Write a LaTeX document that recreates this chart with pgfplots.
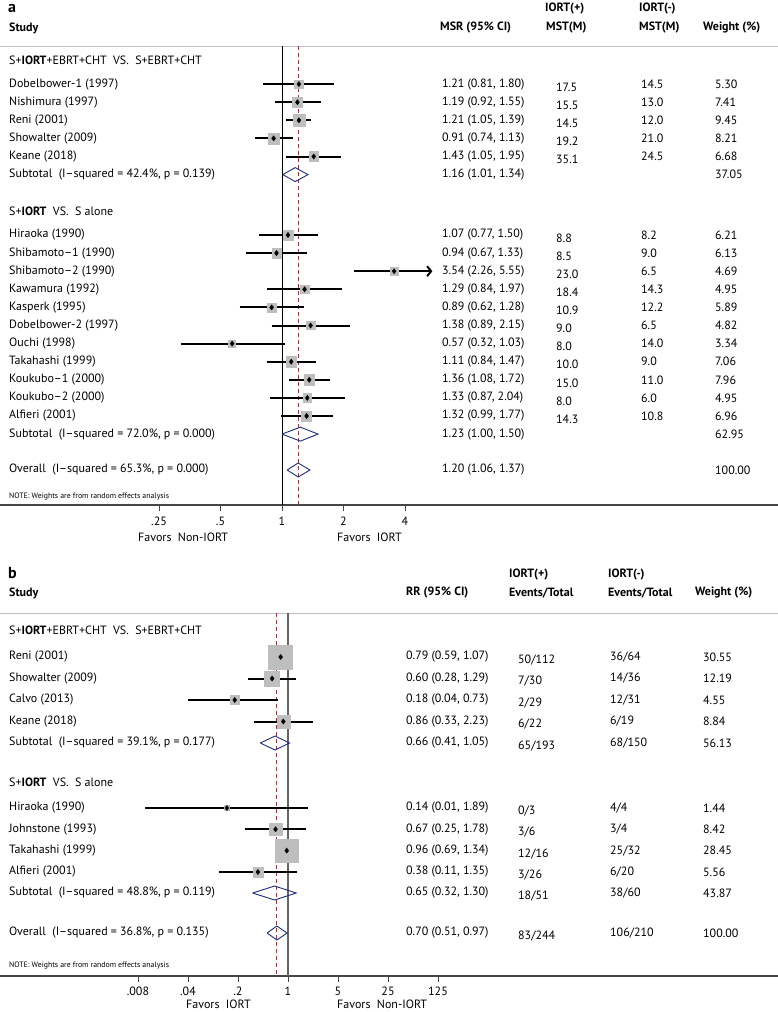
\documentclass[border=0pt]{standalone}
\usepackage{pgfplots}
\pgfplotsset{compat=1.18}
\usepackage{pgfplotstable}
\usepackage{fontspec}
\setmainfont{PT Sans}
\usetikzlibrary{arrows.meta}
\definecolor{sqgray}{RGB}{190,190,190}
\definecolor{navyb}{RGB}{30,45,125}
\definecolor{maroonr}{RGB}{150,55,60}
\definecolor{axgray}{RGB}{70,70,70}
\newcommand{\fsz}{\fontsize{12}{14}\selectfont}
\newcommand{\T}[3]{\node[anchor=west,inner sep=0pt,font=\fsz,xshift=#1pt] at ({rel axis cs:0,0}|-{axis cs:1,#2}) {#3};}
\newcommand{\TT}[3]{\node[anchor=west,inner sep=0pt,font=\fsz,xshift=#1pt,yshift=-3pt] at ({rel axis cs:0,0}|-{axis cs:1,#2}) {#3};}
\newcommand{\RA}[6]{\T{9}{#1}{#2}\T{442}{#1}{#3}\TT{556}{#1}{#4}\T{641}{#1}{#5}\T{715}{#1}{#6}}
\newcommand{\RB}[6]{\T{9}{#1}{#2}\T{406}{#1}{#3}\TT{518}{#1}{#4}\T{610}{#1}{#5}\T{703}{#1}{#6}}
\pgfplotstableread{
y est s
-84.1 1.21 4.37
-102.2 1.19 5.17
-120.3 1.21 5.84
-138.4 0.91 5.44
-156.5 1.43 4.91
-235 1.07 4.73
-253.1 0.94 4.70
-271.2 3.54 4.11
-289.3 1.29 4.23
-307.4 0.89 4.61
-325.5 1.38 4.17
-343.6 0.57 3.47
-361.7 1.11 5.05
-379.8 1.36 5.36
-397.9 1.33 4.23
-416 1.32 5.01
}\tblA
\pgfplotstableread{
y est s
-657 0.79 11.99
-678.5 0.60 7.58
-700 0.18 4.63
-721.5 0.86 6.45
-808 0.14 2.60
-829.3 0.67 6.30
-850.6 0.96 11.57
-872 0.38 5.12
}\tblB
\begin{document}
\begin{tikzpicture}
\useasboundingbox (0,0) rectangle (778pt,-1012pt);
% ---------------- panel a
\begin{axis}[scale only axis, width=778pt, height=505pt,
  at={(0,0)}, anchor=north west,
  xmode=log, xmin=0.04161, xmax=268.3, ymin=-505, ymax=0,
  axis y line=none, axis x line*=bottom,
  x axis line style={-, draw=axgray, line width=1.4pt},
  tick align=outside, major tick length=6pt,
  xtick style={draw=axgray, line width=0.8pt},
  ytick=\empty, clip=false,
  xticklabel style={font=\fsz, inner sep=1pt, yshift=-5pt},
  unbounded coords=jump,
  xtick={0.25,0.5,1,2,4}, xticklabels={.25,.5,1,2,4}]
\draw[black!25, line width=1pt] ({rel axis cs:0,0}|-{axis cs:1,-46}) -- ({rel axis cs:1,0}|-{axis cs:1,-46});
\addplot[black, line width=1pt] coordinates {(1,-46) (1,-505)};
\addplot[maroonr, line width=1pt, dash pattern=on 4pt off 3pt] coordinates {(1.20,-46) (1.20,-505)};
\addplot[sqgray, only marks, mark=square*, mark options={draw=sqgray, fill=sqgray}, scatter,
  scatter/use mapped color={draw=sqgray, fill=sqgray},
  visualization depends on={\thisrow{s} \as \msz},
  scatter/@pre marker code/.append style={/tikz/mark size=\msz}] table[x=est,y=y] {\tblA};
\addplot[black, line width=2pt] coordinates {
(0.81,-84.1) (1.80,-84.1) (1,nan)
(0.92,-102.2) (1.55,-102.2) (1,nan)
(1.05,-120.3) (1.39,-120.3) (1,nan)
(0.74,-138.4) (1.13,-138.4) (1,nan)
(1.05,-156.5) (1.95,-156.5) (1,nan)
(0.77,-235) (1.50,-235) (1,nan)
(0.67,-253.1) (1.33,-253.1) (1,nan)
(0.84,-289.3) (1.97,-289.3) (1,nan)
(0.62,-307.4) (1.28,-307.4) (1,nan)
(0.89,-325.5) (2.15,-325.5) (1,nan)
(0.32,-343.6) (1.03,-343.6) (1,nan)
(0.84,-361.7) (1.47,-361.7) (1,nan)
(1.08,-379.8) (1.72,-379.8) (1,nan)
(0.87,-397.9) (2.04,-397.9) (1,nan)
(0.99,-416) (1.77,-416)};
\addplot[black, line width=2pt, -{Straight Barb[length=4pt,width=10pt]}] coordinates {(2.26,-271.2) (5.45,-271.2)};
\addplot[only marks, mark=diamond*, mark size=2.6pt, black] table[x=est,y=y] {\tblA};
\addplot[navyb, line width=0.9pt] coordinates {
(1.01,-174.6) (1.16,-167.6) (1.34,-174.6) (1.16,-181.6) (1.01,-174.6) (1,nan)
(1.00,-434.1) (1.23,-427.1) (1.50,-434.1) (1.23,-441.1) (1.00,-434.1) (1,nan)
(1.06,-470) (1.20,-463) (1.37,-470) (1.20,-477) (1.06,-470)};
\T{8}{-8}{\fontsize{16}{18}\selectfont\bfseries a}
\T{9}{-28}{\bfseries Study}
\T{440}{-28}{\bfseries MSR (95\% CI)}
\T{545}{-9}{\bfseries IORT(+)}
\T{546}{-28}{\bfseries MST(M)}
\T{639}{-9}{\bfseries IORT(-)}
\T{639}{-28}{\bfseries MST(M)}
\T{703}{-28}{\bfseries Weight (\%)}
\T{9}{-60}{S+\textbf{IORT}+EBRT+CHT\ \ VS.\ \ S+EBRT+CHT}
\RA{-84.1}{Dobelbower-1 (1997)}{1.21 (0.81, 1.80)}{17.5}{14.5}{5.30}
\RA{-102.2}{Nishimura (1997)}{1.19 (0.92, 1.55)}{15.5}{13.0}{7.41}
\RA{-120.3}{Reni (2001)}{1.21 (1.05, 1.39)}{14.5}{12.0}{9.45}
\RA{-138.4}{Showalter (2009)}{0.91 (0.74, 1.13)}{19.2}{21.0}{8.21}
\RA{-156.5}{Keane (2018)}{1.43 (1.05, 1.95)}{35.1}{24.5}{6.68}
\RA{-174.6}{Subtotal\ \ (I--squared = 42.4\%, p = 0.139)}{1.16 (1.01, 1.34)}{}{}{37.05}
\T{9}{-210.8}{S+\textbf{IORT}\ \ VS.\ \ S alone}
\RA{-235}{Hiraoka (1990)}{1.07 (0.77, 1.50)}{8.8}{8.2}{6.21}
\RA{-253.1}{Shibamoto--1 (1990)}{0.94 (0.67, 1.33)}{8.5}{9.0}{6.13}
\RA{-271.2}{Shibamoto--2 (1990)}{3.54 (2.26, 5.55)}{23.0}{6.5}{4.69}
\RA{-289.3}{Kawamura (1992)}{1.29 (0.84, 1.97)}{18.4}{14.3}{4.95}
\RA{-307.4}{Kasperk (1995)}{0.89 (0.62, 1.28)}{10.9}{12.2}{5.89}
\RA{-325.5}{Dobelbower-2 (1997)}{1.38 (0.89, 2.15)}{9.0}{6.5}{4.82}
\RA{-343.6}{Ouchi (1998)}{0.57 (0.32, 1.03)}{8.0}{14.0}{3.34}
\RA{-361.7}{Takahashi (1999)}{1.11 (0.84, 1.47)}{10.0}{9.0}{7.06}
\RA{-379.8}{Koukubo--1 (2000)}{1.36 (1.08, 1.72)}{15.0}{11.0}{7.96}
\RA{-397.9}{Koukubo--2 (2000)}{1.33 (0.87, 2.04)}{8.0}{6.0}{4.95}
\RA{-416}{Alfieri (2001)}{1.32 (0.99, 1.77)}{14.3}{10.8}{6.96}
\RA{-434.1}{Subtotal\ \ (I--squared = 72.0\%, p = 0.000)}{1.23 (1.00, 1.50)}{}{}{62.95}
\RA{-470}{Overall\ \ (I--squared = 65.3\%, p = 0.000)}{1.20 (1.06, 1.37)}{}{}{100.00}
\T{9}{-497}{\fontsize{7.8}{9}\selectfont NOTE: Weights are from random effects analysis}
\T{138}{-537}{Favors\ \ Non-IORT}
\T{337}{-537}{Favors\ \ IORT}
\end{axis}
% ---------------- panel b
\begin{axis}[scale only axis, width=778pt, height=416pt,
  at={(0,-560pt)}, anchor=north west,
  xmode=log, xmin=9.43e-5, xmax=7.068e6, ymin=-976, ymax=-560,
  axis y line=none, axis x line*=bottom,
  x axis line style={-, draw=axgray, line width=1.4pt},
  tick align=outside, major tick length=6pt,
  xtick style={draw=axgray, line width=0.8pt},
  ytick=\empty, clip=false,
  xticklabel style={font=\fsz, inner sep=1pt, yshift=-4pt},
  unbounded coords=jump,
  xtick={0.008,0.04,0.2,1,5,25,125}, xticklabels={.008,.04,.2,1,5,25,125}]
\draw[black!25, line width=1pt] ({rel axis cs:0,0}|-{axis cs:1,-613}) -- ({rel axis cs:1,0}|-{axis cs:1,-613});
\addplot[black!60, line width=1.1pt] coordinates {(1,-613) (1,-976)};
\addplot[maroonr, line width=1pt, dash pattern=on 4pt off 3pt] coordinates {(0.70,-613) (0.70,-976)};
\addplot[sqgray, only marks, mark=square*, mark options={draw=sqgray, fill=sqgray}, scatter,
  scatter/use mapped color={draw=sqgray, fill=sqgray},
  visualization depends on={\thisrow{s} \as \msz},
  scatter/@pre marker code/.append style={/tikz/mark size=\msz}] table[x=est,y=y] {\tblB};
\addplot[black, line width=2pt] coordinates {
(0.59,-657) (1.07,-657) (1,nan)
(0.28,-678.5) (1.29,-678.5) (1,nan)
(0.04,-700) (0.73,-700) (1,nan)
(0.33,-721.5) (2.23,-721.5) (1,nan)
(0.01,-808) (1.89,-808) (1,nan)
(0.25,-829.3) (1.78,-829.3) (1,nan)
(0.69,-850.6) (1.34,-850.6) (1,nan)
(0.11,-872) (1.35,-872)};
\addplot[only marks, mark=diamond*, mark size=2.6pt, black] table[x=est,y=y] {\tblB};
\addplot[navyb, line width=0.9pt] coordinates {
(0.41,-743) (0.66,-736) (1.05,-743) (0.66,-750) (0.41,-743) (1,nan)
(0.32,-893) (0.65,-886) (1.30,-893) (0.65,-900) (0.32,-893) (1,nan)
(0.51,-933) (0.70,-926) (0.97,-933) (0.70,-940) (0.51,-933)};
\T{8}{-573}{\fontsize{16}{18}\selectfont\bfseries b}
\T{9}{-593}{\bfseries Study}
\T{406}{-593}{\bfseries RR (95\% CI)}
\T{509}{-575}{\bfseries IORT(+)}
\T{509}{-593}{\bfseries Events/Total}
\T{608}{-575}{\bfseries IORT(-)}
\T{608}{-593}{\bfseries Events/Total}
\T{695}{-593}{\bfseries Weight (\%)}
\T{9}{-630}{S+\textbf{IORT}+EBRT+CHT\ \ VS.\ \ S+EBRT+CHT}
\RB{-657}{Reni (2001)}{0.79 (0.59, 1.07)}{50/112}{36/64}{30.55}
\RB{-678.5}{Showalter (2009)}{0.60 (0.28, 1.29)}{7/30}{14/36}{12.19}
\RB{-700}{Calvo (2013)}{0.18 (0.04, 0.73)}{2/29}{12/31}{4.55}
\RB{-721.5}{Keane (2018)}{0.86 (0.33, 2.23)}{6/22}{6/19}{8.84}
\RB{-743}{Subtotal\ \ (I--squared = 39.1\%, p = 0.177)}{0.66 (0.41, 1.05)}{65/193}{68/150}{56.13}
\T{9}{-782}{S+\textbf{IORT}\ \ VS.\ \ S alone}
\RB{-808}{Hiraoka (1990)}{0.14 (0.01, 1.89)}{0/3}{4/4}{1.44}
\RB{-829.3}{Johnstone (1993)}{0.67 (0.25, 1.78)}{3/6}{3/4}{8.42}
\RB{-850.6}{Takahashi (1999)}{0.96 (0.69, 1.34)}{12/16}{25/32}{28.45}
\RB{-872}{Alfieri (2001)}{0.38 (0.11, 1.35)}{3/26}{6/20}{5.56}
\RB{-893}{Subtotal\ \ (I--squared = 48.8\%, p = 0.119)}{0.65 (0.32, 1.30)}{18/51}{38/60}{43.87}
\RB{-933}{Overall\ \ (I--squared = 36.8\%, p = 0.135)}{0.70 (0.51, 0.97)}{83/244}{106/210}{100.00}
\T{9}{-966}{\fontsize{7.8}{9}\selectfont NOTE: Weights are from random effects analysis}
\T{186}{-1004}{Favors\ \ IORT}
\T{337}{-1004}{Favors\ \ Non-IORT}
\end{axis}
\end{tikzpicture}
\end{document}
